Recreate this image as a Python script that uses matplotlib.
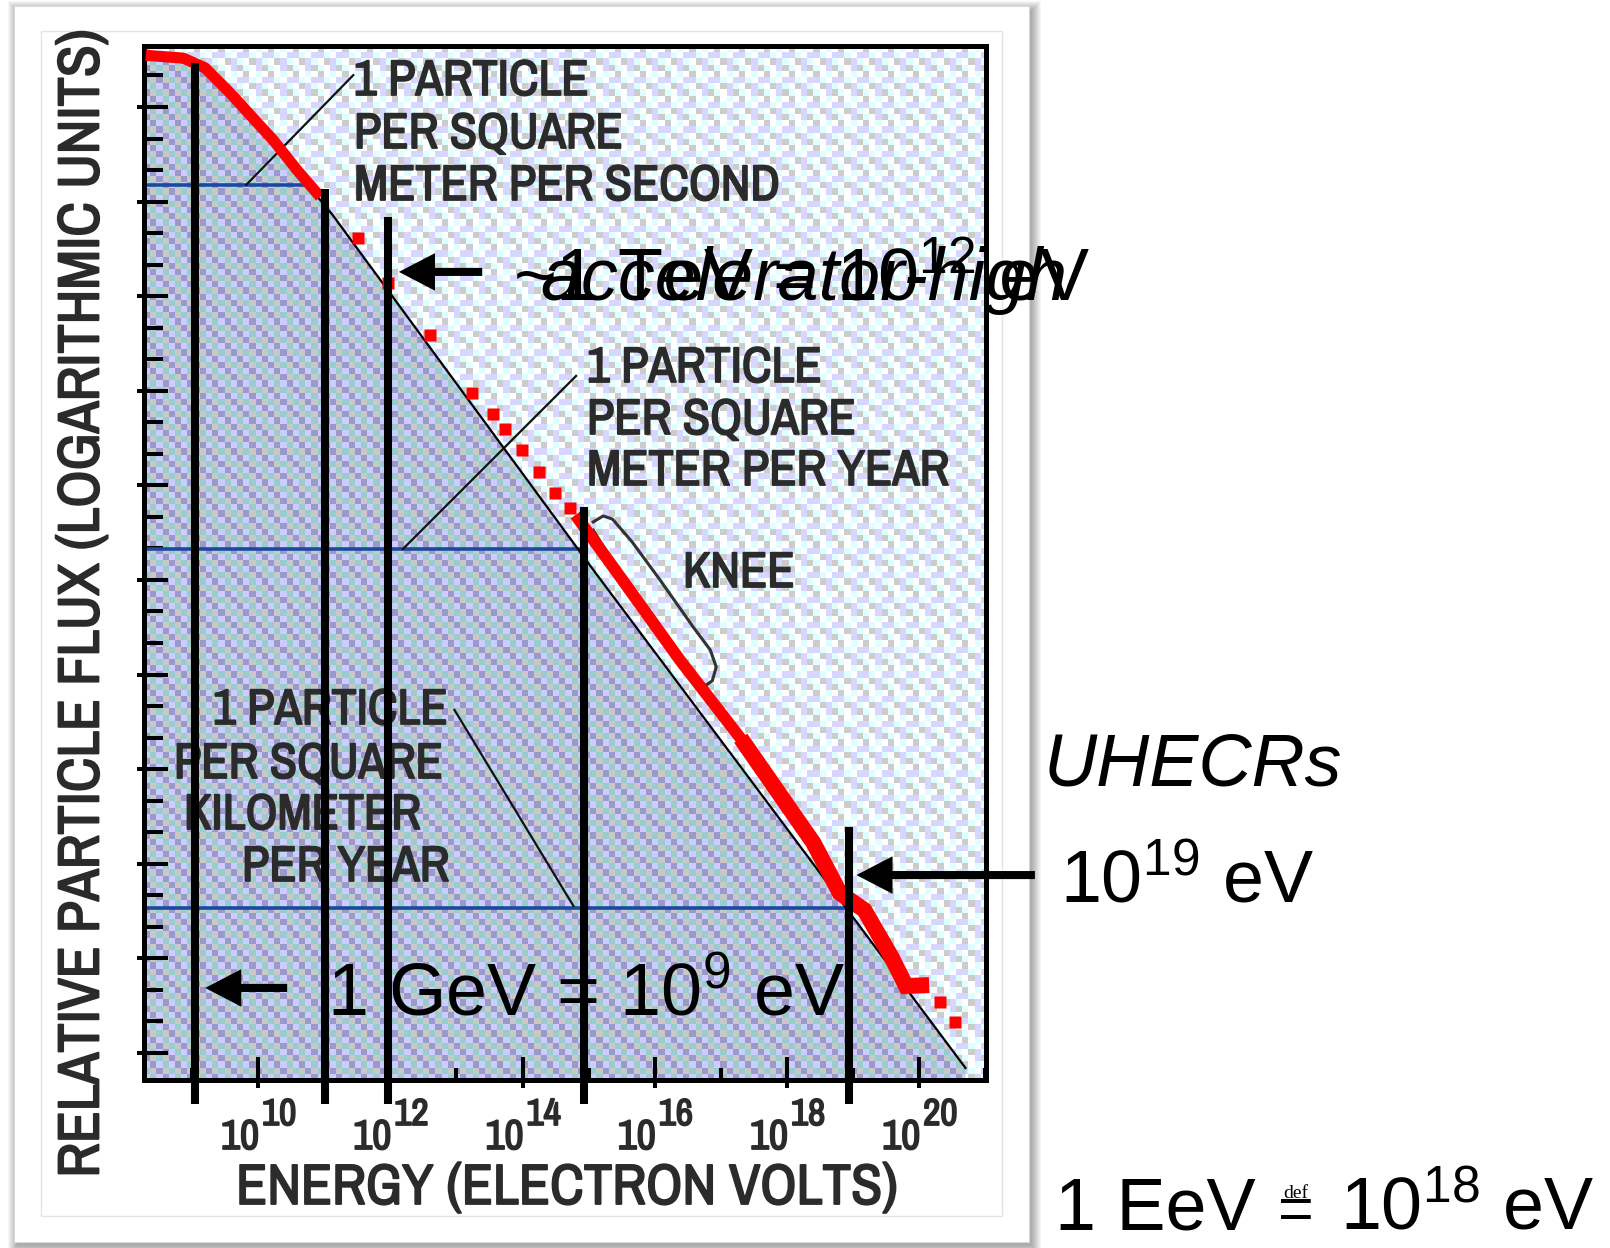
import numpy as np
import matplotlib
matplotlib.use("Agg")
import matplotlib.pyplot as plt
import matplotlib.patheffects as pe
from matplotlib.patches import Rectangle, Polygon
from matplotlib.ticker import FixedLocator, NullFormatter, NullLocator
from matplotlib.transforms import offset_copy

plt.rcParams['mathtext.fontset'] = 'custom'
plt.rcParams['mathtext.rm'] = 'Liberation Sans'
plt.rcParams['mathtext.it'] = 'Liberation Sans:italic'

NARROW = ['Archivo Narrow', 'Roboto Condensed', 'Liberation Sans Narrow', 'DejaVu Sans']
SANS = 'Liberation Sans'
GREY = '#2b2b2b'
BOLDEN = [pe.withStroke(linewidth=1.3, foreground=GREY)]

# ---- data (log10 energy in eV, log10 relative flux) ----
xlim_exp = (8.275, 21.01)
ylim_exp = (-27.86, 4.935)

xtick_major = [10, 12, 14, 16, 18, 20]
xtick_minor = [9, 11, 13, 15, 17, 19, 21]
ytick_major = [3, 0, -3, -6, -9, -12, -15, -18, -21, -24, -27]
ytick_minor = [4, 2, 1, -1, -2, -4, -5, -7, -8, -10, -11, -13, -14, -16, -17,
               -19, -20, -22, -23, -25, -26]

# thin black spectrum line (the shaded area lies below it)
fit_logE = [8.275, 8.87, 9.20, 9.58, 9.88, 10.23, 10.59, 10.94, 11.13, 15.07, 17.90, 20.70]
fit_logF = [4.55, 4.42, 4.10, 3.30, 2.60, 1.80, 0.85, 0.05, -0.43, -11.68, -19.61, -27.48]

# measured points (red)
red_top_logE = [8.30, 8.87, 9.20, 9.58, 9.88, 10.23, 10.59, 10.94]
red_top_logF = [4.64, 4.55, 4.24, 3.44, 2.75, 1.95, 1.00, 0.15]
red_mid_logE = [14.80, 15.37, 16.38, 17.40]
red_mid_logF = [-9.94, -11.59, -14.54, -17.30]
red_low_logE = [17.30, 18.40, 18.80, 19.17, 19.58, 19.80, 20.15]
red_low_logF = [-17.02, -20.34, -21.93, -22.47, -23.96, -24.88, -24.85]
red_sq_logE = [11.51, 11.97, 12.60, 13.24, 13.56, 13.74, 13.99, 14.25, 14.49, 14.72, 20.32, 20.54]
red_sq_logF = [-1.15, -2.58, -4.23, -6.07, -6.74, -7.21, -7.88, -8.58, -9.24, -9.72, -25.39, -26.02]

# rate levels (blue): 1/m2/s, 1/m2/yr, 1/km2/yr
rate_logF = [0.53, -11.02, -22.40]
rate_end_logE = [10.88, 14.92, 18.87]

# marker lines: 1 GeV, 1e11, 1 TeV, knee, 1e19 eV
vline_logE = [9.05, 11.01, 11.97, 14.93, 18.94]
vline_top = [4.40, 0.40, -0.49, -9.69, -19.84]
vline_bottom = -28.62

# leader lines from the labels
leaders = [([9.82, 11.44], [0.53, 4.01]),
           ([12.19, 14.81], [-11.02, -5.53]),
           ([12.97, 14.77], [-16.12, -22.34])]

knee_logE = [15.07, 15.22, 15.36, 15.66, 16.08, 16.58, 16.84, 16.93, 16.87, 16.76,
             16.54, 15.93, 15.33, 15.07]
knee_logF = [-10.16, -9.97, -10.07, -10.80, -12.00, -13.49, -14.22, -14.76, -15.20,
             -15.36, -14.92, -13.02, -11.30, -10.42]

# arrows: (tail, tip) in logE, at logF
arrows = [((13.39, 12.13), -2.23), ((10.44, 9.20), -24.94), ((21.75, 19.05), -21.36)]

W, H = 1610, 1248
fig = plt.figure(figsize=(W / 100, H / 100), dpi=100)
fig.patch.set_facecolor('white')

# slide card + soft shadow
for k in range(10):
    fig.patches.append(Rectangle(((17 - k) / W, 1 - (1246 + k) / H), (1015 + 2 * k) / W,
                                 (1236 + 2 * k) / H, transform=fig.transFigure,
                                 facecolor='black', edgecolor='none', alpha=0.035, zorder=-20))
fig.patches.append(Rectangle((14 / W, 1 - 1242 / H), 1015 / W, 1236 / H, transform=fig.transFigure,
                             facecolor='white', edgecolor='#d8d8d8', lw=0.6, zorder=-19))
fig.patches.append(Rectangle((41 / W, 1 - 1216 / H), 961 / W, 1185 / H, transform=fig.transFigure,
                             facecolor='none', edgecolor='#e4e4e4', lw=1, zorder=-18))

rect = [144 / W, 1 - 1080 / H, (986 - 144) / W, (1080 - 46) / H]

# dithered background texture of the scanned figure
G, Wt, C, L = (204, 204, 204), (255, 255, 255), (221, 255, 255), (214, 214, 255)
tile_light = np.array([[G, Wt, C, Wt], [L, C, Wt, L], [Wt, G, L, C], [C, Wt, L, G]], dtype=np.uint8)
L2, P, T, G2 = (204, 204, 255), (153, 153, 204), (153, 204, 204), (200, 200, 200)
tile_dark = np.array([[L2, P, L2, T], [T, G2, P, G2], [L2, T, L2, P], [P, G2, T, G2]], dtype=np.uint8)
cols, rows = 136, 167
tex_light = np.tile(tile_light, (rows // 4 + 1, cols // 4 + 1, 1))[:rows, :cols]
tex_dark = np.tile(tile_dark, (rows // 4 + 1, cols // 4 + 1, 1))[:rows, :cols]

bg = fig.add_axes(rect, zorder=-1)
bg.imshow(tex_light, extent=(0, 1, 0, 1), aspect='auto', interpolation='nearest')
shade = bg.imshow(tex_dark, extent=(0, 1, 0, 1), aspect='auto', interpolation='nearest')
bg.set_xlim(0, 1)
bg.set_ylim(0, 1)
bg.axis('off')

ax = fig.add_axes(rect, zorder=0)
ax.set_facecolor('none')
ax.set_xscale('log')
ax.set_yscale('log')
ax.set_xlim(10 ** xlim_exp[0], 10 ** xlim_exp[1])
ax.set_ylim(10 ** ylim_exp[0], 10 ** ylim_exp[1])

fitE = 10.0 ** np.array(fit_logE)
fitF = 10.0 ** np.array(fit_logF)
ybot = 10 ** ylim_exp[0]
verts = list(zip(fitE, fitF)) + [(fitE[-1], ybot), (fitE[0], ybot)]
clip_poly = Polygon(verts, closed=True, transform=ax.transData, facecolor='none', edgecolor='none')
shade.set_clip_path(clip_poly)

# blue rate levels
for f, e in zip(rate_logF, rate_end_logE):
    ax.plot([10 ** xlim_exp[0], 10 ** e], [10 ** f, 10 ** f], color='#1a4a9c', lw=2.6, zorder=2,
            solid_capstyle='butt')

ax.plot(fitE, fitF, color='black', lw=1.6, zorder=3)

for xs, ys in leaders:
    ax.plot(10.0 ** np.array(xs), 10.0 ** np.array(ys), color='#111111', lw=1.6, zorder=3)

ax.plot(10.0 ** np.array(knee_logE), 10.0 ** np.array(knee_logF), color='#333333', lw=2.2,
        solid_joinstyle='round', zorder=3)

red = '#ff0000'
ax.plot(10.0 ** np.array(red_top_logE), 10.0 ** np.array(red_top_logF), color=red, lw=8,
        solid_capstyle='butt', zorder=4)
ax.plot(10.0 ** np.array(red_mid_logE), 10.0 ** np.array(red_mid_logF), color=red, lw=8.5,
        solid_capstyle='butt', zorder=4)
ax.plot(10.0 ** np.array(red_low_logE), 10.0 ** np.array(red_low_logF), color=red, lw=11.5,
        solid_capstyle='butt', solid_joinstyle='miter', zorder=4)
ax.plot(10.0 ** np.array(red_sq_logE), 10.0 ** np.array(red_sq_logF), 's', color=red, ms=8.5,
        mec='none', zorder=4)

for e, top in zip(vline_logE, vline_top):
    ax.plot([10 ** e, 10 ** e], [10 ** vline_bottom, 10 ** top], color='black', lw=5.8,
            solid_capstyle='butt', clip_on=False, zorder=6)

for (tail, tip), f in arrows:
    ax.annotate('', xy=(10 ** tip, 10 ** f), xytext=(10 ** tail, 10 ** f),
                arrowprops=dict(width=5.8, headwidth=27, headlength=26, facecolor='black',
                                edgecolor='none', lw=0, shrink=0),
                annotation_clip=False, zorder=7)

# axes styling
for s in ax.spines.values():
    s.set_linewidth(3.6)
ax.xaxis.set_major_locator(FixedLocator(10.0 ** np.array(xtick_major)))
ax.xaxis.set_minor_locator(FixedLocator(10.0 ** np.array(xtick_minor)))
ax.yaxis.set_major_locator(FixedLocator(10.0 ** np.array(ytick_major)))
ax.yaxis.set_minor_locator(FixedLocator(10.0 ** np.array(ytick_minor)))
for a in (ax.xaxis, ax.yaxis):
    a.set_major_formatter(NullFormatter())
    a.set_minor_formatter(NullFormatter())
ax.tick_params(axis='x', which='major', direction='in', length=23 * 0.72, width=2.9, top=False)
ax.tick_params(axis='x', which='minor', direction='in', length=12 * 0.72, width=2.9, top=False)
ax.tick_params(axis='y', which='major', direction='in', length=24 * 0.72, width=2.9, right=False)
ax.tick_params(axis='y', which='minor', direction='in', length=19 * 0.72, width=2.9, right=False)

secx = ax.secondary_xaxis('bottom')
secx.set_xticks(10.0 ** np.array(xtick_major))
secx.xaxis.set_minor_locator(NullLocator())
secx.xaxis.set_major_formatter(NullFormatter())
secx.tick_params(direction='out', length=8 * 0.72, width=2.9)
secx.spines['bottom'].set_visible(False)
secy = ax.secondary_yaxis('left')
secy.set_yticks(10.0 ** np.array(ytick_major))
secy.yaxis.set_minor_locator(NullLocator())
secy.yaxis.set_major_formatter(NullFormatter())
secy.tick_params(direction='out', length=7 * 0.72, width=2.9)
secy.spines['left'].set_visible(False)

# tick labels "10" with big exponent
base_tr = offset_copy(ax.get_xaxis_transform(), fig=fig, x=-18, y=-69, units='dots')
exp_tr = offset_copy(ax.get_xaxis_transform(), fig=fig, x=4, y=-45, units='dots')
for e in xtick_major:
    ax.text(10.0 ** e, 0, '10', transform=base_tr, ha='center', va='baseline', fontsize=30,
            family=NARROW, weight='bold', color=GREY, path_effects=BOLDEN)
    ax.text(10.0 ** e, 0, str(e), transform=exp_tr, ha='left', va='baseline', fontsize=27,
            family=NARROW, weight='bold', color=GREY, path_effects=BOLDEN)

ax.set_xlabel('ENERGY (ELECTRON VOLTS)', fontsize=41, family=NARROW, weight='bold', color=GREY,
              va='center', path_effects=BOLDEN)
ax.xaxis.set_label_coords((567 - 144) / 842, (1080 - 1188) / 1034)
ax.set_ylabel('RELATIVE PARTICLE FLUX (LOGARITHMIC UNITS)', fontsize=42, family=NARROW,
              weight='bold', color=GREY, va='center', ha='center', path_effects=BOLDEN)
ax.yaxis.set_label_coords((82 - 144) / 842, (1080 - 603) / 1034)


def fig_text(x, y, s, **kw):
    return ax.text(x / W, 1 - y / H, s, transform=fig.transFigure, **kw)


lab = dict(fontsize=36, family=NARROW, weight='bold', color=GREY, va='baseline', ha='left',
           zorder=5, path_effects=BOLDEN)
for s, x, y in [('1 PARTICLE', 354, 95), ('PER SQUARE', 354, 148), ('METER PER SECOND', 354, 200),
                ('1 PARTICLE', 587, 382), ('PER SQUARE', 587, 434), ('METER PER YEAR', 587, 485),
                ('1 PARTICLE', 213, 724), ('PER SQUARE', 174, 778), ('KILOMETER', 184, 829),
                ('PER YEAR', 242, 881), ('KNEE', 683, 587)]:
    fig_text(x, y, s, **lab)

# slide annotations
big = dict(fontsize=53, family=SANS, color='black', va='baseline', ha='left', zorder=8)
fig.text(327 / W, 1 - 1015 / H, '1 GeV = 10$^9$ eV', **big)
fig.text(513 / W, 1 - 300 / H, '~1 TeV = 10$^{12}$ eV', **big)
fig.text(540 / W, 1 - 300 / H, 'accelerator-high', style='italic', **big)
fig.text(1043 / W, 1 - 786 / H, 'UHECRs', style='italic', **big)
fig.text(1060 / W, 1 - 902 / H, '10$^{19}$ eV', **big)
fig.text(1055 / W, 1 - 1229 / H, '1 EeV', **big)
fig.text(1296 / W, 1 - 1229 / H, '=', fontsize=44, family=SANS, ha='center', va='baseline')
fig.text(1296 / W, 1 - 1198 / H, 'def', fontsize=14, family='Liberation Serif', ha='center',
         va='baseline')
fig.text(1340 / W, 1 - 1229 / H, '10$^{18}$ eV', **big)

fig.savefig('out.png', dpi=100, facecolor='white')
